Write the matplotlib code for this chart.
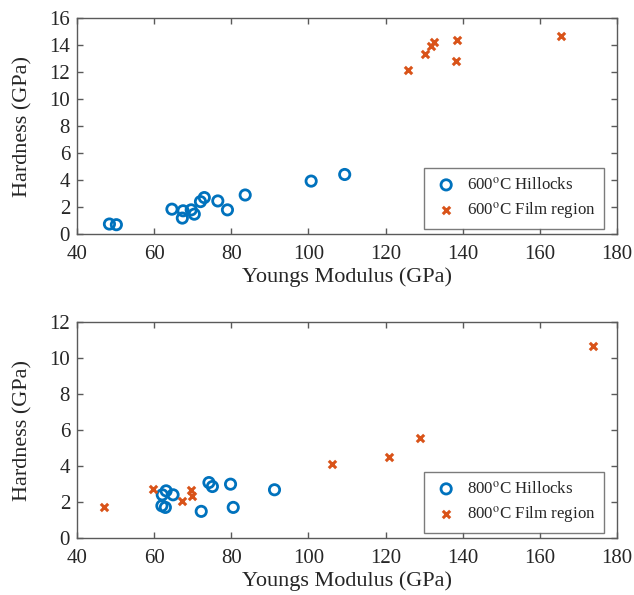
import matplotlib
matplotlib.use("Agg")
import matplotlib.pyplot as plt

# 600 C data
hill600_E = [48.4, 50.2, 64.6, 67.3, 67.5, 69.6, 70.4, 72.0, 73.0, 76.5, 79.0, 83.6, 100.7, 109.4]
hill600_H = [0.74, 0.69, 1.84, 1.18, 1.72, 1.79, 1.47, 2.40, 2.70, 2.45, 1.79, 2.89, 3.92, 4.41]
film600_E = [125.7, 130.2, 131.8, 132.6, 138.4, 138.2, 165.6]
film600_H = [12.18, 13.36, 13.92, 14.26, 14.34, 12.84, 14.66]

# 800 C data
hill800_E = [62.0, 62.9, 62.1, 63.1, 64.9, 72.2, 74.2, 75.1, 79.8, 80.5, 91.2]
hill800_H = [1.79, 1.70, 2.40, 2.62, 2.40, 1.48, 3.08, 2.86, 2.99, 1.70, 2.68]
film800_E = [47.1, 59.7, 67.1, 69.5, 69.8, 106.0, 120.8, 128.8, 173.9]
film800_H = [1.72, 2.75, 2.07, 2.64, 2.31, 4.10, 4.48, 5.55, 10.68]

x_ticks = [40, 60, 80, 100, 120, 140, 160, 180]
y_ticks_top = [0, 2, 4, 6, 8, 10, 12, 14, 16]
y_ticks_bot = [0, 2, 4, 6, 8, 10, 12]

BLUE = "#0072BD"
ORANGE = "#D95319"
AXC = "#5a5a5a"
TXT = "#262626"

plt.rcParams["font.family"] = ["Liberation Serif", "DejaVu Serif"]
plt.rcParams["mathtext.fontset"] = "stix"

fig = plt.figure(figsize=(6.34, 5.95), dpi=100)
ax1 = fig.add_axes([0.1215, 0.6067, 0.8517, 0.363])
ax2 = fig.add_axes([0.1215, 0.0958, 0.8517, 0.363])

def style(ax, yt, temp, hx, hy, fx, fy):
    ax.scatter(hx, hy, s=55, facecolors="none", edgecolors=BLUE, linewidths=2.0,
               label=r"%s$^{\mathrm{o}}$C Hillocks" % temp, zorder=3)
    ax.scatter(fx, fy, s=28, marker="x", color=ORANGE, linewidths=2.2,
               label=r"%s$^{\mathrm{o}}$C Film region" % temp, zorder=3)
    ax.set_xlim(40, 180)
    ax.set_ylim(yt[0], yt[-1])
    ax.set_xticks(x_ticks)
    ax.set_yticks(yt)
    ax.tick_params(direction="in", top=True, right=True, length=4, width=1,
                   color=AXC, labelcolor=TXT, labelsize=15)
    ax.tick_params(axis="x", pad=8)
    ax.tick_params(axis="y", pad=5)
    for sp in ax.spines.values():
        sp.set_color(AXC)
        sp.set_linewidth(1.0)
    ax.set_xlabel("Youngs Modulus (GPa)", fontsize=16, color=TXT, labelpad=2)
    ax.set_ylabel("Hardness (GPa)", fontsize=16, color=TXT, labelpad=12)
    leg = ax.legend(loc="lower right", bbox_to_anchor=(0.976, 0.023),
                    fontsize=12.2, frameon=True, fancybox=False,
                    edgecolor=AXC, borderpad=0.5, handlelength=1.6,
                    handletextpad=0.42, borderaxespad=0.0, labelspacing=0.38)
    leg.get_frame().set_linewidth(1.0)
    for t in leg.get_texts():
        t.set_color(TXT)

style(ax1, y_ticks_top, "600", hill600_E, hill600_H, film600_E, film600_H)
style(ax2, y_ticks_bot, "800", hill800_E, hill800_H, film800_E, film800_H)

fig.savefig("out.png", dpi=100)
